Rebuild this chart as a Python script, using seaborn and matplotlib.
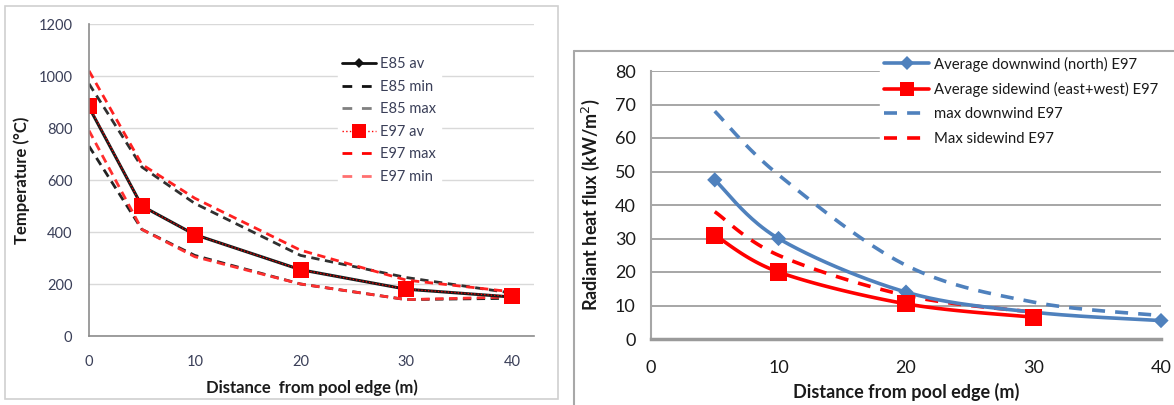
import numpy as np
import pandas as pd
import matplotlib
matplotlib.use("Agg")
import matplotlib.pyplot as plt
import seaborn as sns
from matplotlib.lines import Line2D
from matplotlib.patches import Rectangle

# ---------------- data ----------------
dist_left = [0, 5, 10, 20, 30, 40]
e85_av = [880, 500, 390, 255, 180, 150]
e85_min = [730, 410, 310, 200, 140, 145]
e85_max = [970, 650, 510, 310, 225, 165]
e97_av = [885, 500, 390, 255, 180, 152]
e97_max = [1020, 660, 530, 330, 215, 170]
e97_min = [790, 410, 305, 200, 140, 150]

dist_down = [5, 10, 20, 30, 40]
avg_down = [47.5, 30, 14, 8, 5.5]
max_down = [68, 49, 22, 11, 7]
dist_side = [5, 10, 20, 30]
avg_side = [31, 20, 10.5, 6.5]
max_side = [38, 25, 13, 8]

left_xticks = [0, 10, 20, 30, 40]
left_yticks = [0, 200, 400, 600, 800, 1000, 1200]
right_xticks = [0, 10, 20, 30, 40]
right_yticks = [0, 10, 20, 30, 40, 50, 60, 70, 80]

sns.set_theme(style="white")
plt.rcParams['font.family'] = ['Lato', 'DejaVu Sans']

W, H = 1174, 405
fig = plt.figure(figsize=(W / 100, H / 100), dpi=100)
fig.patch.set_facecolor("white")

def fx(px):
    return px / W

def fy(py):
    return 1 - py / H

# panel frames
fig.add_artist(Rectangle((fx(5), fy(399)), fx(558) - fx(5), fy(6) - fy(399),
                         transform=fig.transFigure, fill=False, edgecolor="#d0d0d0", lw=1.2))
fig.add_artist(Line2D([fx(574), fx(574)], [fy(51), 0], transform=fig.transFigure, color="#a8a8a8", lw=1.5))
fig.add_artist(Line2D([fx(574), 1], [fy(51), fy(51)], transform=fig.transFigure, color="#a8a8a8", lw=1.5))

# ---------------- left panel ----------------
axL = fig.add_axes([fx(89), fy(336), fx(534) - fx(89), fy(24) - fy(336)])
axL.set_xlim(0, 40 * (534 - 89) / (512 - 89))
axL.set_ylim(0, 1200)
axL.set_yticks(left_yticks)
axL.set_xticks(left_xticks)
axL.grid(axis="y", color="#d9d9d9", lw=1)
axL.set_axisbelow(True)
for s in ["top", "right"]:
    axL.spines[s].set_visible(False)
for s in ["left", "bottom"]:
    axL.spines[s].set_color("#8c8c8c")
    axL.spines[s].set_linewidth(1.2)
axL.tick_params(axis="both", length=4, width=1, color="#8c8c8c", labelsize=10.5,
                labelcolor="#3a3f58", direction="out")
axL.tick_params(axis="x", pad=10)
axL.tick_params(axis="y", pad=8)

dfL = pd.DataFrame({"x": dist_left, "e85_av": e85_av, "e85_min": e85_min, "e85_max": e85_max,
                    "e97_av": e97_av, "e97_max": e97_max, "e97_min": e97_min})

DL = [3, 2]
sns.lineplot(data=dfL, x="x", y="e85_min", ax=axL, color="#222222", lw=2)
axL.lines[-1].set_dashes(DL)
sns.lineplot(data=dfL, x="x", y="e85_max", ax=axL, color="#303030", lw=2)
axL.lines[-1].set_dashes(DL)
sns.lineplot(data=dfL, x="x", y="e97_max", ax=axL, color="#ff2020", lw=2)
axL.lines[-1].set_dashes(DL)
sns.lineplot(data=dfL, x="x", y="e97_min", ax=axL, color="#ff3030", lw=2)
axL.lines[-1].set_dashes(DL)
sns.lineplot(data=dfL, x="x", y="e85_av", ax=axL, color="#1a1a1a", lw=2.2,
             marker="D", markersize=5, markeredgewidth=0)
sns.lineplot(data=dfL, x="x", y="e97_av", ax=axL, color="#ff0000", lw=0.9,
             marker="s", markersize=11, markeredgewidth=0)
axL.lines[-1].set_linestyle(":")
axL.set_xlabel("Distance  from pool edge (m)", fontsize=12, fontweight="bold", color="#1a1a1a", labelpad=6)
axL.set_ylabel("Temperature (°C)", fontsize=12, fontweight="bold", color="#1a1a1a", labelpad=8)

hL = [
    Line2D([], [], color="#111111", lw=2, marker="D", markersize=5, markeredgewidth=0),
    Line2D([], [], color="#111111", lw=2, dashes=[3.5, 3.5]),
    Line2D([], [], color="#808080", lw=2, dashes=[3.5, 3.5]),
    Line2D([], [], color="#ff0000", lw=1, linestyle=":", marker="s", markersize=10, markeredgewidth=0),
    Line2D([], [], color="#ff0000", lw=2, dashes=[3.5, 3.5]),
    Line2D([], [], color="#ff7070", lw=2, dashes=[3.5, 3.5]),
]
labL = ["E85 av", "E85 min", "E85 max", "E97 av", "E97 max", "E97 min"]
legL = axL.legend(hL, labL, loc="upper left", frameon=True,
                  fontsize=10.5, handlelength=2.3, handletextpad=0.3, labelspacing=0.58,
                  borderpad=0.3, borderaxespad=0)
legL.set_bbox_to_anchor(((338 - 89) / (534 - 89), (336 - 53) / (336 - 24)), transform=axL.transAxes)
legL.get_frame().set_facecolor("white")
legL.get_frame().set_edgecolor("white")
legL.get_frame().set_alpha(1)
for t in legL.get_texts():
    t.set_color("#3a3f58")

# ---------------- right panel ----------------
def smooth(xs, ys, n=40):
    xs = np.asarray(xs, float)
    ys = np.asarray(ys, float)
    P = np.column_stack([xs, ys])
    Pe = np.vstack([P[0], P, P[-1]])
    out = []
    t = np.linspace(0, 1, n)
    for i in range(len(P) - 1):
        p0, p1, p2, p3 = Pe[i], Pe[i + 1], Pe[i + 2], Pe[i + 3]
        b0 = p1
        b1 = p1 + (p2 - p0) / 6
        b2 = p2 - (p3 - p1) / 6
        b3 = p2
        seg = ((1 - t)[:, None] ** 3 * b0 + 3 * ((1 - t) ** 2 * t)[:, None] * b1
               + 3 * ((1 - t) * t ** 2)[:, None] * b2 + (t ** 3)[:, None] * b3)
        out.append(seg if i == 0 else seg[1:])
    arr = np.vstack(out)
    return arr[:, 0], arr[:, 1]

axR = fig.add_axes([fx(651), fy(339), fx(1161) - fx(651), fy(71) - fy(339)])
axR.set_xlim(0, 40)
axR.set_ylim(0, 80)
axR.set_xticks(right_xticks)
axR.set_yticks(right_yticks)
axR.grid(axis="y", color="#a6a6a6", lw=1.4)
axR.set_axisbelow(True)
for s in ["top", "right"]:
    axR.spines[s].set_visible(False)
axR.spines["left"].set_color("#a6a6a6")
axR.spines["left"].set_linewidth(1.5)
axR.spines["bottom"].set_color("#9a9a9a")
axR.spines["bottom"].set_linewidth(2.5)
axR.tick_params(axis="both", length=5, width=1.3, color="#a6a6a6", labelsize=13,
                labelcolor="#1a1a1a", direction="out")
axR.tick_params(axis="x", pad=10)
axR.tick_params(axis="y", pad=6)

blue = "#4f81bd"
red = "#ff0000"
DR = [3.6, 2.8]
sx, sy = smooth(dist_down, max_down)
sns.lineplot(x=sx, y=sy, ax=axR, color=blue, lw=2.6, sort=False)
axR.lines[-1].set_dashes(DR)
sx, sy = smooth(dist_side, max_side)
sns.lineplot(x=sx, y=sy, ax=axR, color=red, lw=2.6, sort=False)
axR.lines[-1].set_dashes(DR)
sx, sy = smooth(dist_down, avg_down)
sns.lineplot(x=sx, y=sy, ax=axR, color=blue, lw=2.6, sort=False)
sx, sy = smooth(dist_side, avg_side)
sns.lineplot(x=sx, y=sy, ax=axR, color=red, lw=2.6, sort=False)
mask = [d != 30 for d in dist_down]
sns.scatterplot(x=[d for d, m in zip(dist_down, mask) if m], y=[v for v, m in zip(avg_down, mask) if m],
                ax=axR, color=blue, marker="D", s=60, edgecolor="none", zorder=5)
sns.scatterplot(x=dist_side, y=avg_side, ax=axR, color=red, marker="s", s=150, edgecolor="none", zorder=6)
for c in axR.collections:
    c.set_clip_on(False)
for ln in axR.lines:
    ln.set_clip_on(False)

axR.set_xlabel("Distance from pool edge (m)", fontsize=13, fontweight="bold", color="#1a1a1a", labelpad=8)
axR.set_ylabel("Radiant heat flux (kW/m$^2$)", fontsize=13, fontweight="bold", color="#1a1a1a", labelpad=6)

hR = [
    Line2D([], [], color=blue, lw=2.6, marker="D", markersize=7, markeredgewidth=0),
    Line2D([], [], color=red, lw=2.6, marker="s", markersize=10, markeredgewidth=0),
    Line2D([], [], color=blue, lw=2.6, dashes=DR),
    Line2D([], [], color=red, lw=2.6, dashes=DR),
]
labR = ["Average downwind (north) E97", "Average sidewind (east+west) E97",
        "max downwind E97", "Max sidewind E97"]
legR = axR.legend(hR, labR, loc="upper left", frameon=True, fontsize=10.7,
                  handlelength=3.0, handletextpad=0.3, labelspacing=0.7,
                  borderpad=0.3, borderaxespad=0)
legR.set_bbox_to_anchor(((880 - 651) / (1161 - 651), (339 - 52) / (339 - 71)), transform=axR.transAxes)
legR.get_frame().set_facecolor("white")
legR.get_frame().set_edgecolor("white")
legR.get_frame().set_alpha(1)
for t in legR.get_texts():
    t.set_color("#1a1a1a")

axL.yaxis.set_label_coords(-(89 - 22) / (534 - 89), 0.5)
axL.xaxis.set_label_coords(0.5, -(388 - 336) / (336 - 24))
axR.yaxis.set_label_coords(-(651 - 591) / (1161 - 651), 0.5)
axR.xaxis.set_label_coords(0.5, -(392 - 339) / (339 - 71))
for lab in [axL.xaxis.label, axR.xaxis.label]:
    lab.set_va("center")
for lab in [axL.yaxis.label, axR.yaxis.label]:
    lab.set_va("center")

fig.savefig("out.png", dpi=100, facecolor="white")
